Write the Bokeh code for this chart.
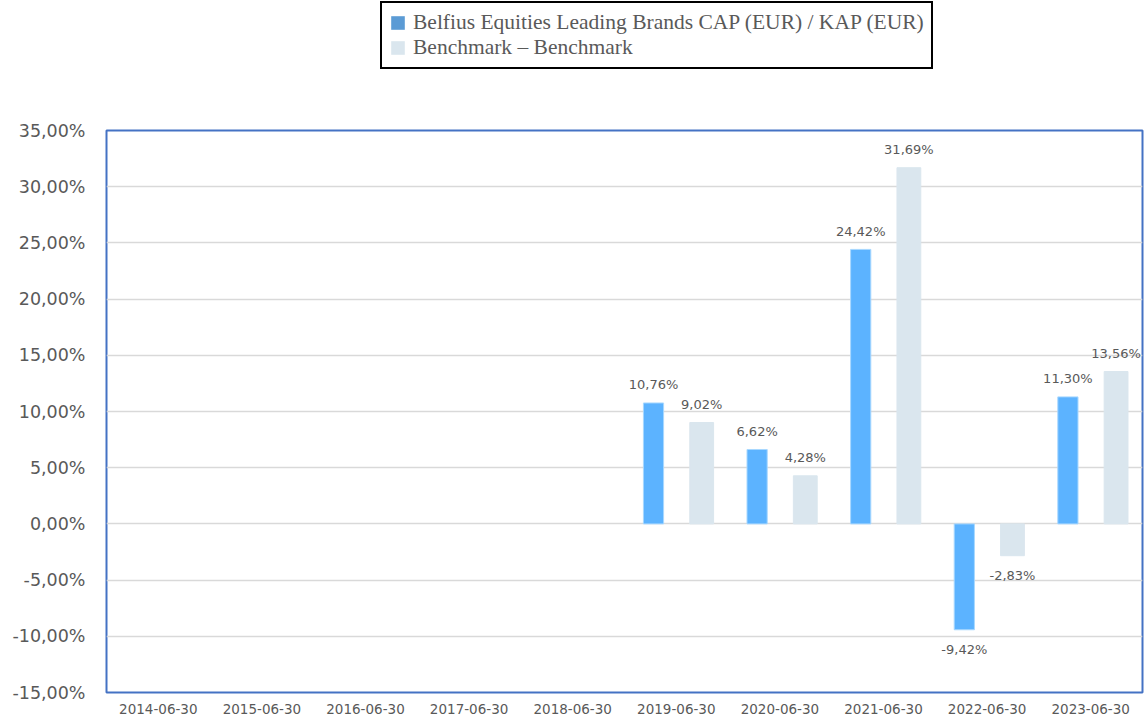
from bokeh.plotting import figure
from bokeh.layouts import column
from bokeh.models import FactorRange, Range1d, FixedTicker, ColumnDataSource, Legend, LegendItem
from bokeh.transform import dodge
from bokeh.core.properties import value
from bokeh.embed import file_html
from bokeh.resources import INLINE

periods = ["2014-06-30", "2015-06-30", "2016-06-30", "2017-06-30", "2018-06-30",
           "2019-06-30", "2020-06-30", "2021-06-30", "2022-06-30", "2023-06-30"]
fund_name = "Belfius Equities Leading Brands CAP (EUR) / KAP (EUR)"
bench_name = "Benchmark \u2013 Benchmark"
fund_returns = [None, None, None, None, None, 10.76, 6.62, 24.42, -9.42, 11.30]
bench_returns = [None, None, None, None, None, 9.02, 4.28, 31.69, -2.83, 13.56]
y_ticks = [-15, -10, -5, 0, 5, 10, 15, 20, 25, 30, 35]
y_tick_labels = ["-15,00%", "-10,00%", "-5,00%", "0,00%", "5,00%", "10,00%",
                 "15,00%", "20,00%", "25,00%", "30,00%", "35,00%"]

FUND_COLOR = "#5cb3ff"
FUND_EDGE = "#a8d8ff"
FUND_LEGEND = "#5b9bd5"
BENCH_COLOR = "#dae6ee"
TEXT_GREY = "#595959"


def make_source(vals):
    xs, ys, labels, offs = [], [], [], []
    for per, v in zip(periods, vals):
        if v is None:
            continue
        xs.append(per)
        ys.append(v)
        labels.append(f"{v:.2f}".replace(".", ",") + "%")
        offs.append(-18 if v >= 0 else 20)
    return ColumnDataSource(dict(period=xs, value=ys, label=labels, offset=offs))


fund_src = make_source(fund_returns)
bench_src = make_source(bench_returns)

W = 1144
LEFT = 106
RIGHT = 2

# ---------- legend strip ----------
leg = figure(width=W, height=70, x_range=Range1d(0, 1), y_range=Range1d(0, 1),
             x_axis_type=None, y_axis_type=None, output_backend="svg", toolbar_location=None,
             min_border_left=LEFT, min_border_right=RIGHT, min_border_top=0, min_border_bottom=0)
leg.outline_line_color = None
leg.xgrid.visible = False
leg.ygrid.visible = False
leg.background_fill_color = "white"
leg.border_fill_color = "white"
# off-screen swatch renderers used only for the legend
r1 = leg.vbar(x=[-10], top=[-10], bottom=[-11], width=0.2, fill_color=FUND_LEGEND, line_color=None)
r2 = leg.vbar(x=[-10], top=[-10], bottom=[-11], width=0.2, fill_color=BENCH_COLOR, line_color=None)
legend = Legend(items=[LegendItem(label=fund_name, renderers=[r1]),
                       LegendItem(label=bench_name, renderers=[r2])],
                location=(380 - LEFT, 1), orientation="vertical",
                border_line_color="black", border_line_width=2, border_line_alpha=1,
                background_fill_color="white", background_fill_alpha=1,
                label_text_font="Liberation Serif", label_text_font_size="21.5px",
                label_text_color=TEXT_GREY, glyph_width=17, glyph_height=17,
                label_height=25, label_standoff=7, spacing=0, padding=7, margin=0)
leg.add_layout(legend, "center")

# ---------- main chart ----------
p = figure(x_range=FactorRange(*periods), y_range=Range1d(-15, 35),
           width=W, height=651, output_backend="svg", toolbar_location=None,
           min_border_left=LEFT, min_border_right=RIGHT, min_border_top=60, min_border_bottom=29)
p.background_fill_color = "white"
p.border_fill_color = "white"
p.outline_line_color = "#4472c4"
p.outline_line_width = 2
p.outline_line_alpha = 1

p.xgrid.visible = False
p.ygrid.ticker = FixedTicker(ticks=y_ticks)
p.ygrid.grid_line_color = "#d9d9d9"
p.ygrid.grid_line_width = 1.5

FUND_OFF = -0.22
BENCH_OFF = 0.245

p.vbar(x=dodge("period", FUND_OFF, range=p.x_range), top="value", bottom=0, width=0.195,
       source=fund_src, fill_color=FUND_COLOR, line_color=FUND_EDGE, line_width=1)
p.vbar(x=dodge("period", BENCH_OFF, range=p.x_range), top="value", bottom=0, width=0.23,
       source=bench_src, fill_color=BENCH_COLOR, line_color=BENCH_COLOR, line_width=1)

for src, off in ((fund_src, FUND_OFF), (bench_src, BENCH_OFF)):
    p.text(x=dodge("period", off, range=p.x_range), y="value", text="label", y_offset="offset",
           source=src, text_align="center", text_baseline="middle",
           text_font=value("DejaVu Sans"), text_font_size="13px", text_color=TEXT_GREY)

p.yaxis.ticker = FixedTicker(ticks=y_ticks)
p.yaxis.major_label_overrides = {t: l for t, l in zip(y_ticks, y_tick_labels)}
p.yaxis.axis_line_color = None
p.yaxis.major_tick_line_color = None
p.yaxis.minor_tick_line_color = None
p.yaxis.major_tick_out = 0
p.yaxis.major_label_standoff = 21
p.yaxis.major_label_text_font = "DejaVu Sans"
p.yaxis.major_label_text_font_size = "17.5px"
p.yaxis.major_label_text_color = TEXT_GREY

p.xaxis.axis_line_color = None
p.xaxis.major_tick_line_color = None
p.xaxis.minor_tick_line_color = None
p.xaxis.major_tick_out = 0
p.xaxis.major_label_standoff = 11
p.xaxis.major_label_text_font = "DejaVu Sans"
p.xaxis.major_label_text_font_size = "13.5px"
p.xaxis.major_label_text_color = TEXT_GREY

layout = column(leg, p, spacing=0)
open("out.html", "w").write(file_html(layout, INLINE))
